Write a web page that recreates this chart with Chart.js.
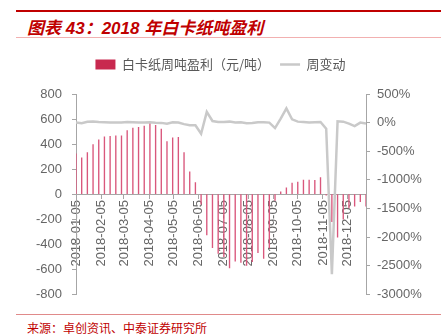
<!DOCTYPE html>
<html>
<head>
<meta charset="utf-8">
<script src="https://cdn.jsdelivr.net/npm/chart.js@4.4.0/dist/chart.umd.min.js"></script>
<style>
  body { margin: 0; width: 441px; height: 335px; background: #fff; position: relative; overflow: hidden; }
  .rule-top { position: absolute; left: 16px; top: 10px; width: 425px; height: 2px; background: #c00000; }
  .title { position: absolute; left: 27px; top: 14px; font: italic bold 17px "Liberation Sans", "Noto Sans CJK SC", sans-serif; color: #c00000; white-space: nowrap; }
  .rule-sub { position: absolute; left: 16px; top: 37px; width: 425px; height: 1px; background: #f2b0b0; }
  #wrap { position: absolute; left: 0; top: 48px; width: 441px; height: 264px; }
  .rule-bottom { position: absolute; left: 16px; top: 314px; width: 425px; height: 1px; background: #e08a8a; }
  .source { position: absolute; left: 27px; top: 319px; font: 12px "Noto Sans CJK SC", sans-serif; color: #c00000; white-space: nowrap; }
</style>
</head>
<body>
<div class="rule-top"></div>
<div class="title">图表 43：2018 年白卡纸吨盈利</div>
<div class="rule-sub"></div>
<div id="wrap"><canvas id="chart"></canvas></div>
<div class="rule-bottom"></div>
<div class="source">来源：卓创资讯、中泰证券研究所</div>
<script>
// weekly observation dates
const weeks = [
  '2018-01-05','2018-01-12','2018-01-19','2018-01-26','2018-02-02','2018-02-09','2018-02-16','2018-02-23',
  '2018-03-02','2018-03-09','2018-03-16','2018-03-23','2018-03-30','2018-04-06','2018-04-13','2018-04-20',
  '2018-04-27','2018-05-04','2018-05-11','2018-05-18','2018-05-25','2018-06-01','2018-06-08','2018-06-15',
  '2018-06-22','2018-06-29','2018-07-06','2018-07-13','2018-07-20','2018-07-27','2018-08-03','2018-08-10',
  '2018-08-17','2018-08-24','2018-08-31','2018-09-07','2018-09-14','2018-09-21','2018-09-28','2018-10-05',
  '2018-10-12','2018-10-19','2018-10-26','2018-11-02','2018-11-09','2018-11-16','2018-11-23','2018-11-30',
  '2018-12-07','2018-12-14','2018-12-21','2018-12-28'
];

// 白卡纸周吨盈利（元/吨）
const profit = [
  321, 289, 331, 396, 434, 458, 461, 466, 466, 507, 528, 533, 544, 568, 550, 520,
  420, 450, 453, 331, 178, 92, -80, -326, -428, -474, -500, -590, -536, -547, -570, -540,
  -469, -515, -430, -50, 19, 51, 89, 97, 113, 113, 110, 132, -8, -220, -345, -200,
  -110, -97, -60, -97
];

// 周变动 (%)
const change = [
  2, -10, 15, 20, 10, 6, 1, 1, 0, 9, 4, 1, 2, 4, -3, -5,
  -19, 7, 1, -27, -46, -48, -194, 187, 28, 11, 11, 17, 0, 6, -12, -6,
  6, 6, 0, -95, 70, 247, 58, 17, 11, 0, 6, 11, -106, -2650, 23, 17,
  -18, -60, 0, -18
];

// month ticks on the date axis
const monthLabels = [
  '2018-01-05','2018-02-05','2018-03-05','2018-04-05','2018-05-05','2018-06-05',
  '2018-07-05','2018-08-05','2018-09-05','2018-10-05','2018-11-05','2018-12-05'
];

const DAY = 86400000;
const start = Date.parse(weeks[0]);
const dayOf = d => Math.round((Date.parse(d) - start) / DAY);
const weekDays = weeks.map(dayOf);
const monthDays = monthLabels.map(dayOf);

const axisColor = '#a6a6a6';
const textColor = '#666666';

// push the plot area down below the legend
const legendGap = {
  id: 'legendGap',
  beforeInit(chart) {
    const fit = chart.legend.fit;
    chart.legend.fit = function () {
      fit.bind(chart.legend)();
      this.height += 13;
    };
  }
};

new Chart(document.getElementById('chart'), {
  type: 'bar',
  data: {
    datasets: [
      {
        type: 'bar',
        label: '白卡纸周吨盈利（元/吨）',
        data: weekDays.map((x, i) => ({ x, y: profit[i] })),
        backgroundColor: '#d9577c',
        barThickness: 0.7,
        yAxisID: 'y',
        order: 1,
        pointStyle: 'rect'
      },
      {
        type: 'line',
        label: '周变动',
        data: weekDays.map((x, i) => ({ x, y: change[i] })),
        borderColor: '#c9c9c9',
        borderWidth: 2.5,
        pointRadius: 0,
        tension: 0,
        yAxisID: 'y1',
        order: 0,
        pointStyle: 'line'
      }
    ]
  },
  options: {
    responsive: true,
    maintainAspectRatio: false,
    animation: false,
    layout: { padding: { top: 0, bottom: 8, left: 0, right: 0 } },
    plugins: {
      tooltip: { enabled: false },
      legend: {
        position: 'top',
        labels: {
          usePointStyle: true,
          pointStyleWidth: 20,
          boxHeight: 10,
          color: '#595959',
          font: { family: '"Noto Sans CJK SC"', size: 13 },
          sort: (a, b) => a.datasetIndex - b.datasetIndex,
          // legend swatch keeps the full series colour
          generateLabels: chart => Chart.defaults.plugins.legend.labels.generateLabels(chart).map(item => {
            if (item.datasetIndex === 0) { item.fillStyle = '#c8294f'; }
            return item;
          })
        }
      }
    },
    scales: {
      x: {
        type: 'linear',
        min: 0,
        max: 357,
        offset: false,
        position: { y: 0 },
        grid: { drawOnChartArea: false, drawTicks: true, tickLength: 4, color: axisColor, offset: false },
        border: { color: axisColor },
        afterBuildTicks: s => { s.ticks = monthDays.map(v => ({ value: v })); },
        ticks: {
          autoSkip: false,
          minRotation: 90,
          maxRotation: 90,
          padding: 2,
          color: textColor,
          font: { family: '"Liberation Sans"', size: 13 },
          callback: v => monthLabels[monthDays.indexOf(v)]
        }
      },
      y: {
        position: 'left',
        min: -800,
        max: 800,
        grid: { drawOnChartArea: false, tickLength: 4, color: axisColor },
        border: { color: axisColor },
        ticks: { stepSize: 200, padding: 10, color: textColor, font: { family: '"Liberation Sans"', size: 13 } },
        afterFit: s => { s.width = 76; }
      },
      y1: {
        position: 'right',
        min: -3000,
        max: 500,
        grid: { drawOnChartArea: false, tickLength: 4, color: axisColor },
        border: { color: axisColor },
        ticks: { stepSize: 500, padding: 7, color: textColor, font: { family: '"Liberation Sans"', size: 13 }, callback: v => v + '%' },
        afterFit: s => { s.width = 75; }
      }
    }
  },
  plugins: [legendGap]
});
</script>
</body>
</html>
